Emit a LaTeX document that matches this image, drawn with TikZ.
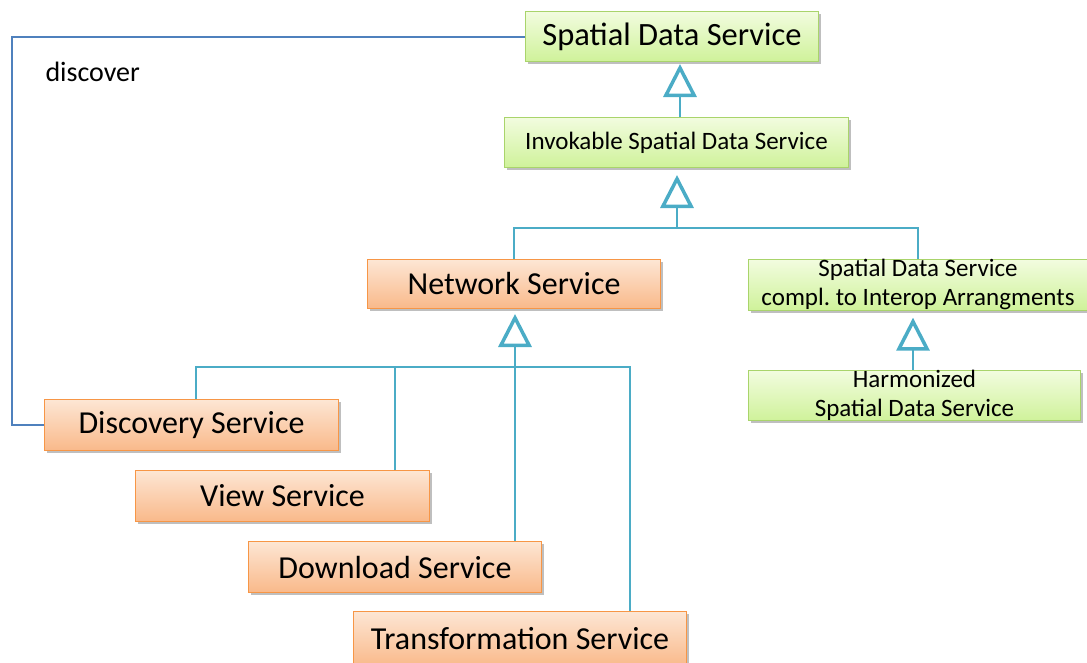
\documentclass[tikz,border=0pt]{standalone}
\usepackage{fontspec}
\setmainfont{Carlito}
\usetikzlibrary{arrows.meta,shadows,calc}
\definecolor{gline}{HTML}{4BACC6}
\definecolor{bline}{HTML}{4F81BD}
\definecolor{gborder}{HTML}{A9D46B}
\definecolor{gtop}{HTML}{F2FCDF}
\definecolor{gbot}{HTML}{CFF29A}
\definecolor{oborder}{HTML}{F79646}
\definecolor{otop}{HTML}{FDE6D4}
\definecolor{obot}{HTML}{F9B98A}
\tikzset{
  box/.style={draw, line width=1pt, inner sep=0pt, anchor=north west, align=center,
    drop shadow={shadow xshift=2pt, shadow yshift=-2.5pt, opacity=0.25, fill=black}},
  greenbox/.style={box, draw=gborder, top color=gtop, bottom color=gbot},
  orangebox/.style={box, draw=oborder, top color=otop, bottom color=obot},
  bigtext/.style={font=\fontsize{32}{35}\selectfont},
  smalltext/.style={font=\fontsize{25}{29}\selectfont},
  conn/.style={draw=gline, line width=2pt},
  gen/.style={conn, -{Triangle[open, length=33pt, width=33pt, line width=3.5pt]}},
  usage/.style={draw=bline, line width=2pt}
}
\begin{document}
\begin{tikzpicture}[x=1pt, y=-1pt]
\useasboundingbox (0,0) rectangle (1087,662);

% service classes
\node[greenbox, bigtext, minimum width=293pt, minimum height=50pt, font=\fontsize{32.5}{35}\selectfont] (sds) at (525,11) {Spatial Data Service};
\node[greenbox, smalltext, minimum width=344pt, minimum height=50pt] (isds) at (504,117) {Invokable Spatial Data Service};
\node[orangebox, bigtext, minimum width=293pt, minimum height=49pt] (ns) at (367,259) {Network Service};
\node[greenbox, smalltext, minimum width=339pt, minimum height=50pt] (sdsc) at (748,259) {Spatial Data Service\\compl.\ to Interop Arrangments};
\node[greenbox, smalltext, minimum width=332pt, minimum height=50pt] (hsds) at (748,370) {Harmonized\\Spatial Data Service};
\node[orangebox, bigtext, minimum width=294pt, minimum height=51pt] (disc) at (44,399) {Discovery Service};
\node[orangebox, bigtext, minimum width=294pt, minimum height=51pt] (view) at (135,470) {View Service};
\node[orangebox, bigtext, minimum width=293pt, minimum height=51pt] (down) at (248,541) {Download Service};
\node[orangebox, bigtext, minimum width=333pt, minimum height=55pt] (trans) at (353,611) {Transformation Service};

% junction points of the generalization trees
\coordinate (j1) at (677,228);
\coordinate (j2) at (515,367);

% generalizations
\draw[gen, shorten >=2pt] (isds.north -| 680,0) -- (sds.south -| 680,0);
\draw[gen, shorten >=7pt] (j1) -- (isds.south -| j1);
\draw[conn] (ns.north -| 514,0) |- (j1) -| (sdsc.north -| 918,0);
\draw[gen, shorten >=7pt] (hsds.north -| 913,0) -- (sdsc.south -| 913,0);
\draw[gen, shorten >=5pt] (down.north -| j2) -- (ns.south -| j2);
\draw[conn] (disc.north -| 196,0) |- (j2) -| (trans.north -| 630,0);
\draw[conn] (view.north -| 395,0) -- (395,367);

% usage dependency
\draw[usage] (sds.west) -- (sds.west -| 12,0) |- (disc.west);
\node[font=\fontsize{28}{30}\selectfont, anchor=west] (lbl) at (42,72) {discover};
\end{tikzpicture}
\end{document}
